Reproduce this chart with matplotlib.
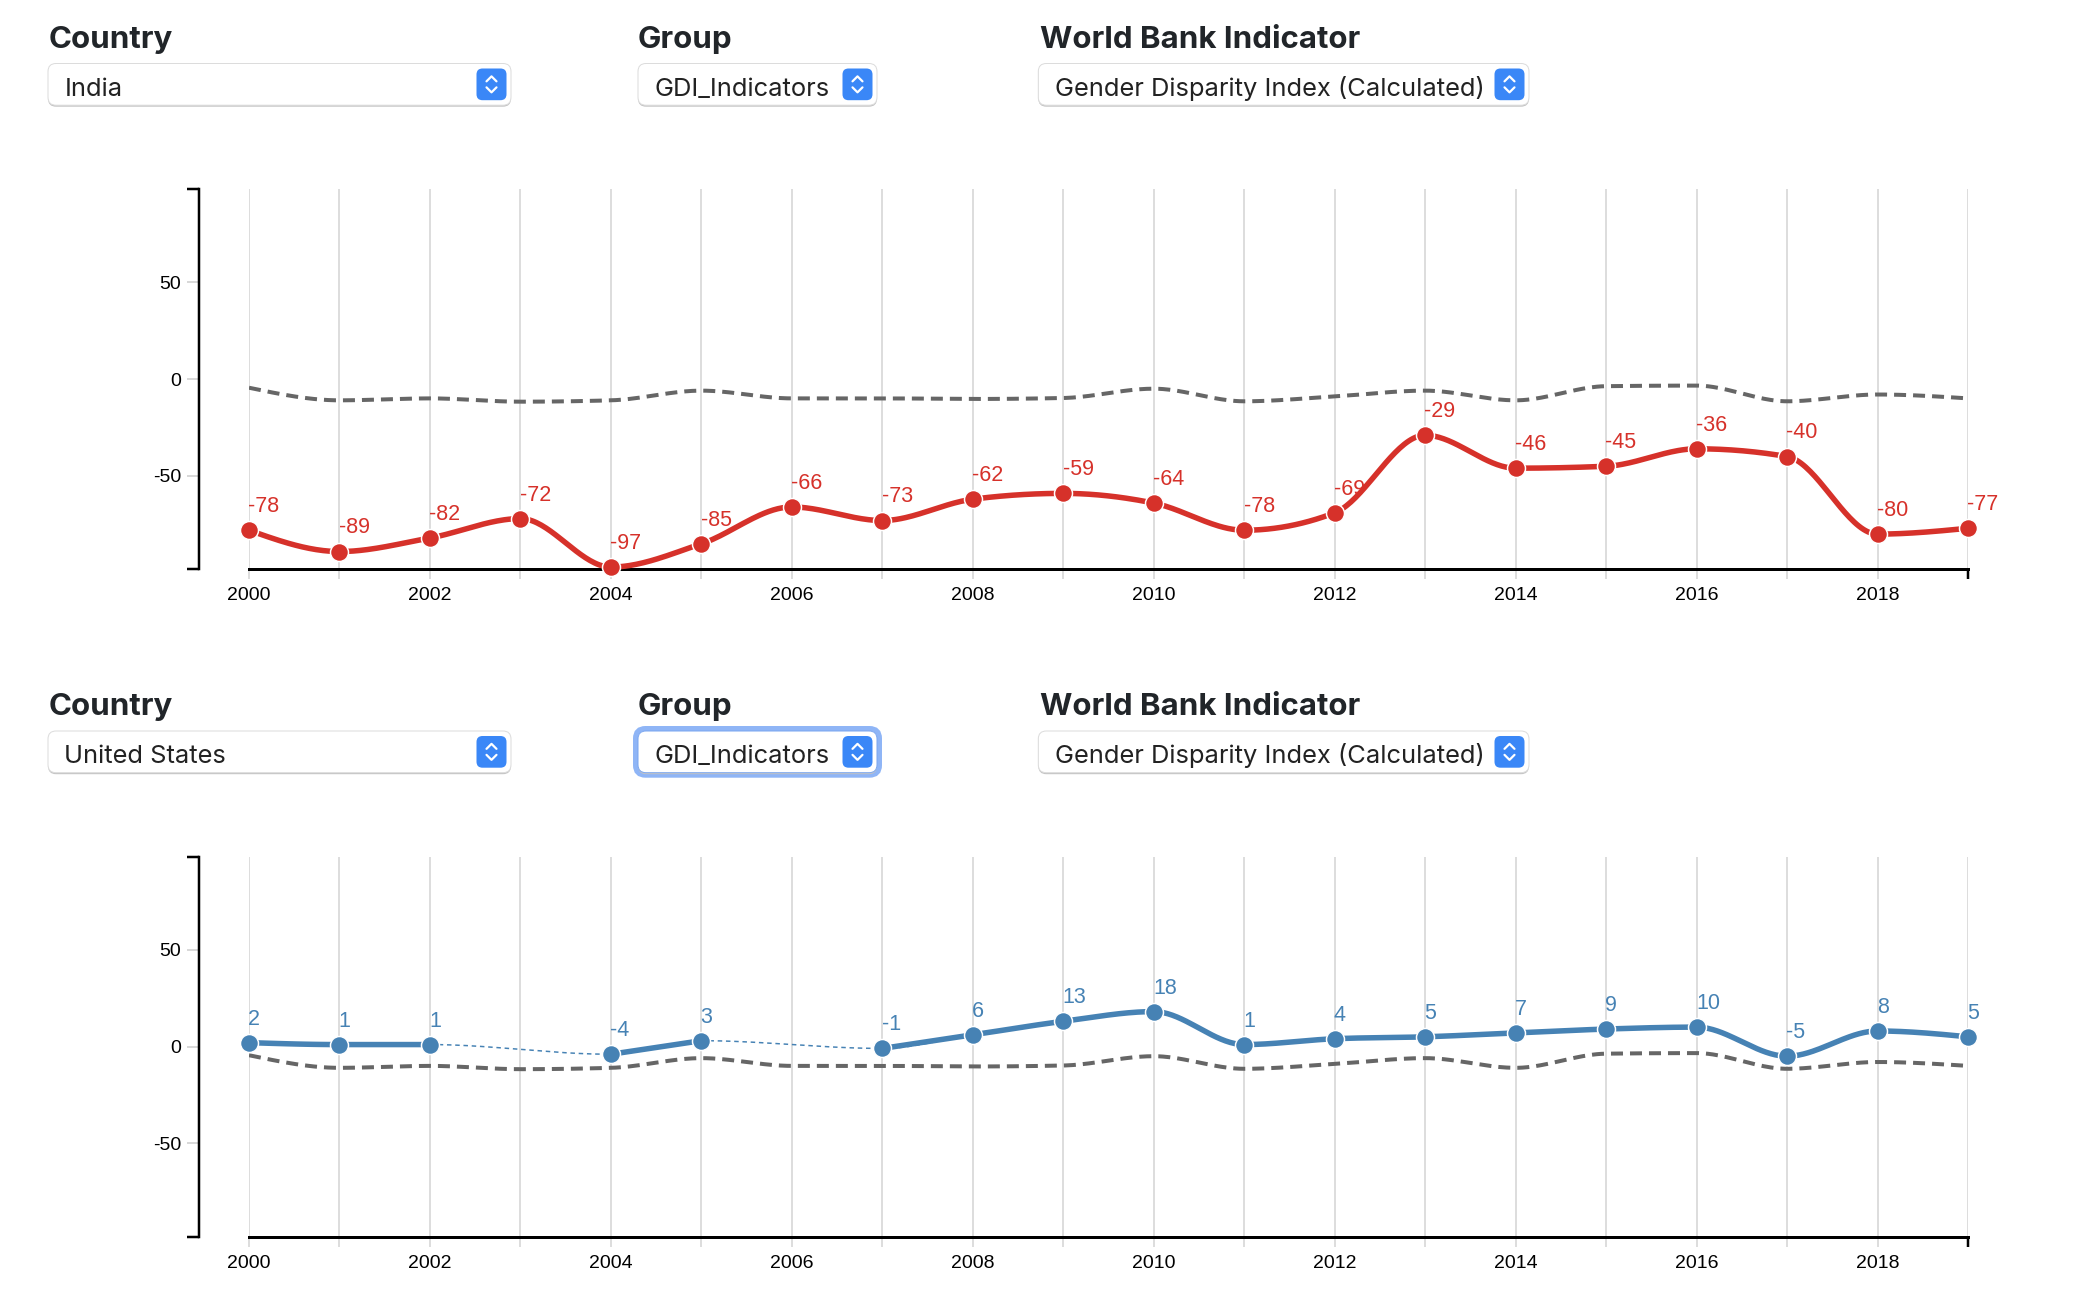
import numpy as np
import matplotlib
matplotlib.use("Agg")
import matplotlib.pyplot as plt
from matplotlib.patches import FancyBboxPatch

# data
years = list(range(2000, 2020))
india = [-78, -89, -82, -72, -97, -85, -66, -73, -62, -59,
         -64, -78, -69, -29, -46, -45, -36, -40, -80, -77]
usa = [2, 1, 1, None, -4, 3, None, -1, 6, 13,
       18, 1, 4, 5, 7, 9, 10, -5, 8, 5]
reference = [-4.5, -11, -10, -11.7, -11, -6, -10, -10, -10.3, -9.8,
             -5, -11.5, -9, -6, -11, -3.7, -3.4, -11.5, -8, -10]
y_ticks = [-50, 0, 50]
y_domain = (-98, 98)

headers = ["Country", "Group", "World Bank Indicator"]
selects_top = ["India", "GDI_Indicators", "Gender Disparity Index (Calculated)"]
selects_bottom = ["United States", "GDI_Indicators", "Gender Disparity Index (Calculated)"]

RED = "#d6312a"
BLUE = "#4682b4"
W, H = 2092, 1298
PX = 72 / 100  # points per pixel
DY = 667.5     # vertical offset of second panel

fig = plt.figure(figsize=(W / 100, H / 100), dpi=100)
fig.patch.set_facecolor("white")
bg = fig.add_axes([0, 0, 1, 1])
bg.set_xlim(0, W)
bg.set_ylim(H, 0)
bg.axis("off")

HEAD_FONT = ["Inter", "Open Sans", "DejaVu Sans"]
TICK_FONT = ["Liberation Sans", "DejaVu Sans"]


def fit_size(s, width, **kw):
    # font size (pt) that makes s about `width` pixels wide
    t = bg.text(100, 100, s, fontsize=20, **kw)
    w = t.get_window_extent(fig.canvas.get_renderer()).width
    t.remove()
    return 20 * width / w


head_size = fit_size(headers[2], 321, fontweight="bold", family=HEAD_FONT)
sel_size = fit_size(selects_top[2], 430, family=HEAD_FONT)

# x positions of the three controls: label x, box left, box right
controls = [(49, 48, 511), (638, 638, 877), (1040, 1038.3, 1529)]


def select_box(x0, x1, dy, text, focus=False):
    y0, y1 = 63.5 + dy, 105.2 + dy
    if focus:
        bg.add_patch(FancyBboxPatch((x0 - 2.5, y0 - 2.5), x1 - x0 + 5, y1 - y0 + 5,
                                    boxstyle="round,pad=0,rounding_size=10",
                                    fc="none", ec="#8fb5f6", lw=5 * PX, zorder=1))
    bg.add_patch(FancyBboxPatch((x0, y0 + 1.5), x1 - x0, y1 - y0,
                                boxstyle="round,pad=0,rounding_size=8",
                                fc="#c4c4c4", ec="none", zorder=1))
    bg.add_patch(FancyBboxPatch((x0, y0), x1 - x0, y1 - y0,
                                boxstyle="round,pad=0,rounding_size=8",
                                fc="white", ec="#7aa6f0" if focus else "#dcdcdc",
                                lw=1 * PX, zorder=2))
    bx1 = x1 - 4.5
    bx0 = bx1 - 30
    by0, by1 = y0 + 5, y1 - 5
    bg.add_patch(FancyBboxPatch((bx0, by0), bx1 - bx0, by1 - by0,
                                boxstyle="round,pad=0,rounding_size=6",
                                fc="#3a87f7", ec="none", zorder=3))
    cx, cy = (bx0 + bx1) / 2, (by0 + by1) / 2
    bg.plot([cx - 5, cx, cx + 5], [cy - 3, cy - 8, cy - 3], color="white",
            lw=2.2 * PX, solid_capstyle="round", solid_joinstyle="round", zorder=4)
    bg.plot([cx - 5, cx, cx + 5], [cy + 3, cy + 8, cy + 3], color="white",
            lw=2.2 * PX, solid_capstyle="round", solid_joinstyle="round", zorder=4)
    bg.text(x0 + 16.5, 95.8 + dy, text, fontsize=sel_size, family=HEAD_FONT,
            color="#222222", va="baseline", ha="left", zorder=5)


def draw_header(dy, texts, focus_idx=None):
    for i, ((lx, x0, x1), label, txt) in enumerate(zip(controls, headers, texts)):
        bg.text(lx, 47.5 + dy, label, fontsize=head_size, fontweight="bold",
                family=HEAD_FONT, color="#212529", va="baseline", ha="left")
        select_box(x0, x1, dy, txt, focus=(i == focus_idx))


def monotone(xs, ys, n=40):
    """d3 curveMonotoneX through the given points."""
    xs = np.asarray(xs, float)
    ys = np.asarray(ys, float)
    if len(xs) < 3:
        return xs, ys
    h = np.diff(xs)
    s = np.diff(ys) / h
    t = np.zeros(len(xs))
    for i in range(1, len(xs) - 1):
        h0, h1, s0, s1 = h[i - 1], h[i], s[i - 1], s[i]
        p = (s0 * h1 + s1 * h0) / (h0 + h1)
        t[i] = (np.sign(s0) + np.sign(s1)) * min(abs(s0), abs(s1), 0.5 * abs(p))
    t[0] = (3 * s[0] - t[1]) / 2
    t[-1] = (3 * s[-1] - t[-2]) / 2
    out_x, out_y = [], []
    u = np.linspace(0, 1, n)
    for i in range(len(xs) - 1):
        dx = h[i]
        h00 = 2 * u**3 - 3 * u**2 + 1
        h10 = u**3 - 2 * u**2 + u
        h01 = -2 * u**3 + 3 * u**2
        h11 = u**3 - u**2
        yy = h00 * ys[i] + h10 * dx * t[i] + h01 * ys[i + 1] + h11 * dx * t[i + 1]
        out_x.extend(xs[i] + u * dx)
        out_y.extend(yy)
    return np.array(out_x), np.array(out_y)


def draw_chart(top, values, color):
    L, R, CH = 249, 1968, 380
    ax = fig.add_axes([L / W, 1 - (top + CH) / H, (R - L) / W, CH / H])
    ax.set_facecolor("none")
    ax.set_xlim(years[0], years[-1])
    ax.set_ylim(*y_domain)
    for side in ["top", "right"]:
        ax.spines[side].set_visible(False)
    ax.spines["left"].set_position(("outward", 50 * PX))
    ax.spines["left"].set_linewidth(2.5 * PX)
    ax.spines["bottom"].set_linewidth(3 * PX)
    ax.grid(axis="x", color="#dddddd", lw=2 * PX)
    ax.set_axisbelow(True)

    ax.set_xticks(years)
    ax.set_xticklabels([str(y) if y % 2 == 0 else "" for y in years])
    ax.tick_params(axis="x", length=10 * PX, width=2 * PX, color="#dddddd",
                   pad=8 * PX, labelsize=14)
    last = ax.xaxis.get_major_ticks()[-1]
    last.tick1line.set_markeredgecolor("black")
    last.tick1line.set_markeredgewidth(2.5 * PX)

    yt = [y_domain[0]] + y_ticks + [y_domain[1]]
    ax.set_yticks(yt)
    ax.set_yticklabels([""] + [str(v) for v in y_ticks] + [""])
    ax.tick_params(axis="y", length=12 * PX, width=1.5 * PX, color="#cccccc",
                   pad=6 * PX, labelsize=14)
    for k in (0, -1):
        tk = ax.yaxis.get_major_ticks()[k]
        tk.tick1line.set_markeredgecolor("black")
        tk.tick1line.set_markeredgewidth(2.5 * PX)
    for lab in ax.get_xticklabels() + ax.get_yticklabels():
        lab.set_family(TICK_FONT)

    # reference line
    rx, ry = monotone(years, reference)
    ax.plot(rx, ry, color="#666666", lw=4 * PX, dashes=(3, 1.75), zorder=2)

    # thin dotted line through all defined points (bridges gaps)
    dx = [x for x, v in zip(years, values) if v is not None]
    dv = [v for v in values if v is not None]
    if len(dv) < len(values):
        gx, gy = monotone(dx, dv)
        ax.plot(gx, gy, color=color, lw=1.5 * PX, dashes=(3, 2.5), zorder=3)

    # solid segments
    seg_x, seg_y = [], []
    for x, v in list(zip(years, values)) + [(None, None)]:
        if v is None:
            if seg_x:
                sx, sy = monotone(seg_x, seg_y)
                ax.plot(sx, sy, color=color, lw=5.5 * PX, zorder=4,
                        solid_capstyle="round", clip_on=False)
            seg_x, seg_y = [], []
        else:
            seg_x.append(x)
            seg_y.append(v)

    ax.plot(dx, dv, "o", ms=18 * PX, mfc=color, mec="white", mew=1.5 * PX,
            zorder=5, clip_on=False)
    for x, v in zip(dx, dv):
        ax.annotate(str(v), (x, v), xytext=(-0.5, 13), textcoords="offset points",
                    ha="left", va="baseline", fontsize=15.5, color=color,
                    family=TICK_FONT, zorder=6, annotation_clip=False)
    return ax


draw_header(0, selects_top)
draw_header(DY, selects_bottom, focus_idx=1)
draw_chart(189, india, RED)
draw_chart(189 + DY, usa, BLUE)

fig.savefig("out.png", dpi=100, facecolor="white")
